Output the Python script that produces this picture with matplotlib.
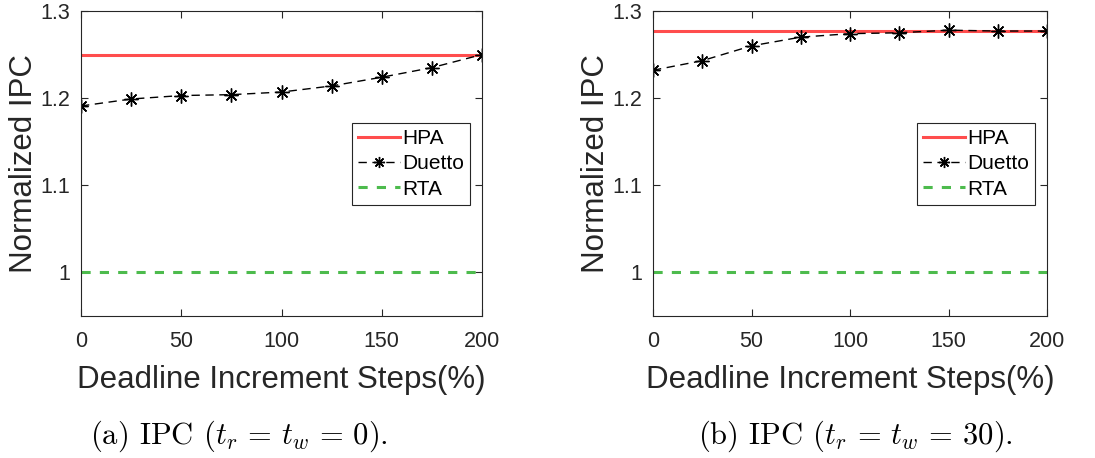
import numpy as np
import matplotlib
matplotlib.use('Agg')
import matplotlib.pyplot as plt

# データ
steps = [0, 25, 50, 75, 100, 125, 150, 175, 200]
duetto_a = [1.191, 1.199, 1.203, 1.204, 1.207, 1.214, 1.224, 1.235, 1.250]
duetto_b = [1.232, 1.243, 1.260, 1.270, 1.274, 1.275, 1.278, 1.277, 1.277]
hpa_a = 1.250
hpa_b = 1.277
rta = 1.0
captions = [r'(a) IPC ($t_r \,=\, t_w \,=\, 0$).', r'(b) IPC ($t_r \,=\, t_w \,=\, 30$).']

plt.rcParams['font.family'] = ['Liberation Sans', 'DejaVu Sans']
plt.rcParams['mathtext.fontset'] = 'cm'
plt.rcParams['axes.formatter.use_mathtext'] = False

fig = plt.figure(figsize=(10.95, 4.58), dpi=100)
W, H = 1095, 458
# 軸の位置 (ピクセル)
boxes = [(81, 11, 482, 316), (653, 11, 1047, 316)]
data = [(duetto_a, hpa_a), (duetto_b, hpa_b)]
cap_x = [239, 855]

for (x0, y0, x1, y1), (duetto, hpa), cap, cx in zip(boxes, data, captions, cap_x):
	ax = fig.add_axes([x0 / W, 1 - y1 / H, (x1 - x0) / W, (y1 - y0) / H])
	ax.plot([steps[0], steps[-1]], [hpa, hpa], color='#ff4d4d', lw=2.2, label='HPA')
	ax.plot(steps, duetto, color='black', ls=(0, (6, 4)), lw=1.0,
			marker=(8, 2, 0), markersize=10, markeredgewidth=1.0, label='Duetto')
	ax.plot([steps[0], steps[-1]], [rta, rta], color='#4dbb4d', ls=(0, (3, 3)), lw=2.2, label='RTA')
	ax.set_xlim(0, 200)
	ax.set_ylim(0.95, 1.3)
	ax.set_xticks([0, 50, 100, 150, 200])
	ax.set_yticks([1.0, 1.1, 1.2, 1.3])
	ax.set_yticklabels(['1', '1.1', '1.2', '1.3'])
	ax.tick_params(direction='in', top=True, right=True, labelsize=15.5,
				   colors='#262626', length=5, width=0.8)
	ax.tick_params(axis='x', pad=11)
	ax.tick_params(axis='y', pad=8)
	for s in ax.spines.values():
		s.set_color('#262626')
		s.set_linewidth(0.8)
	ax.set_xlabel('Deadline Increment Steps(%)', fontsize=22.5, color='#262626', labelpad=9)
	ax.set_ylabel('Normalized IPC', fontsize=22.5, color='#262626', labelpad=1)
	leg = ax.legend(loc='upper right', bbox_to_anchor=(0.97, 0.633), fontsize=15,
					fancybox=False, framealpha=1, edgecolor='#262626',
					handlelength=2.0, handletextpad=0.1, labelspacing=0.3,
					borderpad=0.3, borderaxespad=0, markerscale=0.8)
	leg.get_frame().set_linewidth(0.8)
	fig.text(cx / W, 1 - 436 / H, cap, fontsize=22, ha='center', va='center',
			 family='cmr10')

fig.savefig('out.png', dpi=100)
